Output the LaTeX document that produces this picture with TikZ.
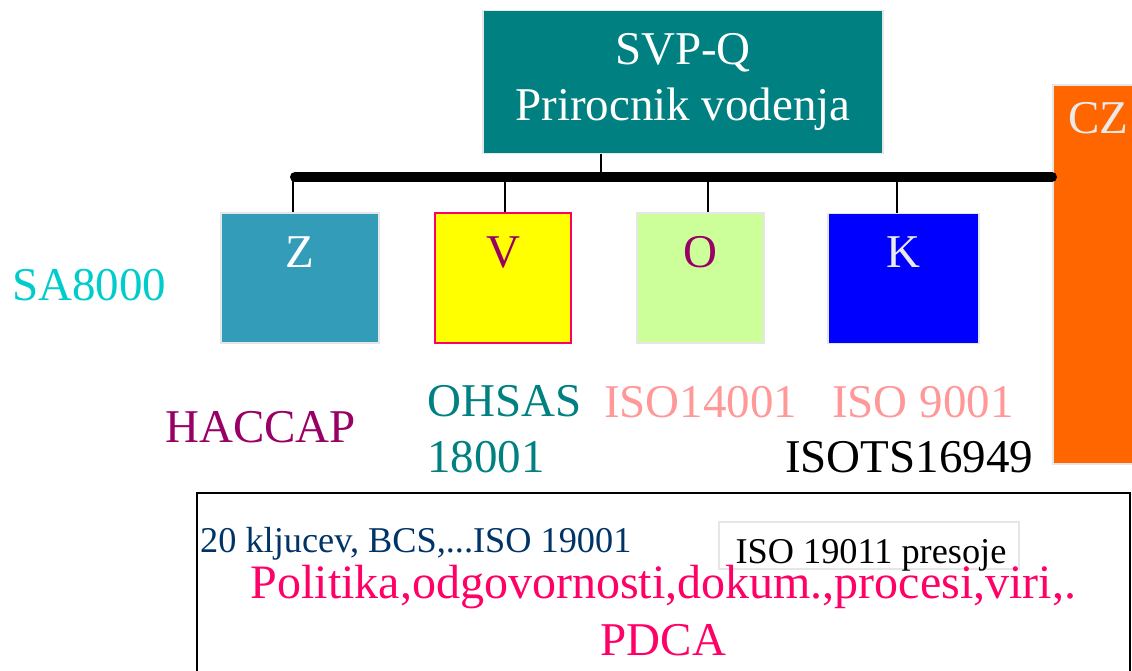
\documentclass[tikz,border=0pt]{standalone}
\usepackage{fontspec}
\setmainfont{Liberation Serif}
\usetikzlibrary{positioning,calc}

\definecolor{svpteal}{HTML}{008080}
\definecolor{zblue}{HTML}{339CB9}
\definecolor{vpink}{HTML}{FF0066}
\definecolor{vyellow}{HTML}{FFFF00}
\definecolor{ogreen}{HTML}{CCFF99}
\definecolor{kblue}{HTML}{0000FF}
\definecolor{czorange}{HTML}{FF6600}
\definecolor{plum}{HTML}{990066}
\definecolor{saturq}{HTML}{00CCCC}
\definecolor{salmon}{HTML}{FF9999}
\definecolor{navy}{HTML}{003366}
\definecolor{paleedge}{HTML}{E6E6E6}
\definecolor{czwhite}{HTML}{EAEAEA}

\newcommand{\bigtxt}{\fontsize{47}{56}\selectfont}
\newcommand{\smalltxt}{\fontsize{36.3}{42}\selectfont}

\begin{document}
\begin{tikzpicture}[
    x=1pt, y=-1pt,
    titlebox/.style={
        rectangle,
        draw=paleedge,
        line width=1.5pt,
        fill=svpteal,
        text=white,
        align=center,
        minimum width=400pt,
        minimum height=143pt,
        inner sep=0pt,
        font=\bigtxt
    },
    unit/.style={
        rectangle,
        draw=paleedge,
        line width=1.5pt,
        minimum height=130pt,
        inner sep=0pt,
        text height=34pt,
        text depth=56pt,
        font=\bigtxt
    },
    norm/.style={
        anchor=base west,
        inner sep=0pt,
        font=\bigtxt
    },
    stem/.style={
        line width=1.5pt
    },
    bus/.style={
        line width=10pt,
        line cap=round
    }
]

\clip (0,0) rectangle (1132,670);

% =========================
% Manual and the four units
% =========================

\node[titlebox] (title) at (683,82)
{SVP-Q\\Prirocnik vodenja};

\node[unit, fill=zblue, text=white, minimum width=158pt] (zunit) at (300,278) {Z};

\node[unit, fill=vyellow, draw=vpink, text=plum, minimum width=136pt] (vunit) at (503,278) {V};

\node[unit, fill=ogreen, text=plum, minimum width=127pt] (ounit) at (700.5,278) {O};

\node[unit, fill=kblue, text=czwhite, minimum width=151pt] (kunit) at (903.5,278.5) {K};

\node[unit, fill=czorange, anchor=north west, minimum width=100pt, minimum height=379pt] (czbox) at (1052,84) {};

\node[norm, text=czwhite] (cz) at (1068,133) {CZ};

% =========================
% Bus and drops
% =========================

\coordinate (busW) at (295,177);
\coordinate (busE) at (1052,177);

\coordinate (tdrop) at ($(title.south)+(-82,0)$);
\coordinate (zdrop) at ($(zunit.north)+(-7,0)$);
\coordinate (vdrop) at ($(vunit.north)+(2,0)$);
\coordinate (odrop) at ($(ounit.north)+(7.5,0)$);
\coordinate (kdrop) at ($(kunit.north)+(-6.5,0)$);

\draw[stem] (tdrop) -- (tdrop |- busW);
\draw[stem] (zdrop) -- (zdrop |- busW);
\draw[stem] (vdrop) -- (vdrop |- busW);
\draw[stem] (odrop) -- (odrop |- busW);
\draw[stem] (kdrop) -- (kdrop |- busW);

\draw[bus] (busW) -- (busE);

% =========================
% Standards
% =========================

\node[norm, text=saturq] (sa) at (12,300) {SA8000};
\node[norm, text=plum] (haccap) at (165,442) {HACCAP};
\node[norm, text=svpteal, align=left] (ohsas) at (427,472) {OHSAS\\18001};
\node[norm, text=salmon] (iso14) at (604,417) {ISO14001};
\node[norm, text=salmon] (iso9) at (832,417) {ISO 9001};
\node[norm] (isots) at (785,472) {ISOTS16949};

% =========================
% Common base
% =========================

\draw[line width=2pt] (197,493) rectangle (1130,700);

\node[norm, font=\smalltxt, text=navy] (kljuc) at (200,552) {20 kljucev, BCS,...ISO 19001};

\node[rectangle, draw=paleedge, line width=1.5pt, fill=white,
      minimum width=300pt, minimum height=47pt] (audit) at (869,545.5) {};
\node[anchor=base, inner sep=0pt, font=\smalltxt] (audittxt) at (871,563) {ISO 19011 presoje};

\node[anchor=base, inner sep=0pt, font=\fontsize{48}{56}\selectfont, text=vpink] (politika) at (663.5,598)
{Politika,odgovornosti,dokum.,procesi,viri,.};
\node[anchor=base, inner sep=0pt, font=\bigtxt, text=vpink] (pdca) at (663.5,655) {PDCA};

\end{tikzpicture}
\end{document}
